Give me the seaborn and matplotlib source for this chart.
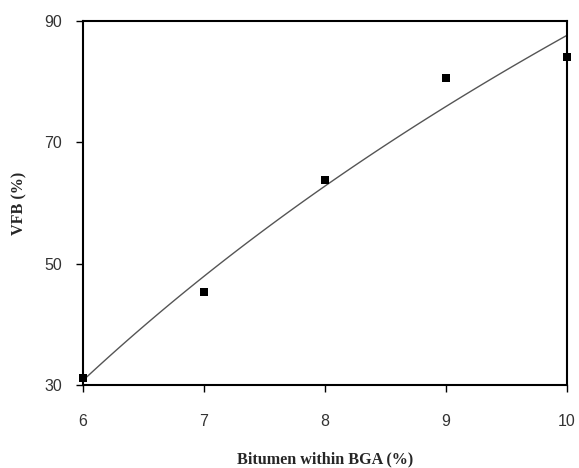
import matplotlib
matplotlib.use("Agg")
import matplotlib.pyplot as plt
import seaborn as sns
import pandas as pd

# values
bitumen = [6, 7, 8, 9, 10]
vfb = [31.1, 45.4, 63.8, 80.6, 84.1]

df = pd.DataFrame({'bitumen': bitumen, 'vfb': vfb})

sns.set_theme(style="ticks")
plt.rcParams['font.family'] = ['Liberation Sans', 'DejaVu Sans']

fig = plt.figure(figsize=(5.79, 4.68), dpi=100)
ax = fig.add_axes([0.1434, 0.1774, 0.8356, 0.7776])

# logarithmic trendline (fit y ~ ln x)
sns.regplot(data=df, x='bitumen', y='vfb', logx=True, ci=None, ax=ax,
            scatter=False, truncate=True,
            line_kws={'color': '#555555', 'linewidth': 1.0})
sns.scatterplot(data=df, x='bitumen', y='vfb', ax=ax, marker='s', s=40,
                color='black', edgecolor='black', linewidth=0, clip_on=False, zorder=5)

ax.set_xlim(6, 10)
ax.set_ylim(30, 90)
ax.set_xticks([6, 7, 8, 9, 10])
ax.set_yticks([30, 50, 70, 90])
ax.tick_params(axis='both', direction='out', length=5, width=1, colors='black',
               labelsize=11.5, labelcolor='#333333')
ax.tick_params(axis='y', pad=10)
ax.tick_params(axis='x', pad=16)
for side in ['top', 'right', 'left', 'bottom']:
    ax.spines[side].set_visible(True)
    ax.spines[side].set_linewidth(1.5)
    ax.spines[side].set_color('black')

serif = ['Liberation Serif', 'DejaVu Serif']
ax.set_xlabel('Bitumen within BGA (%)', family=serif, fontweight='bold', fontsize=11.6, labelpad=16)
ax.set_ylabel('VFB (%)', family=serif, fontweight='bold', fontsize=11.6, labelpad=12)

plt.savefig('out.png', dpi=100)
